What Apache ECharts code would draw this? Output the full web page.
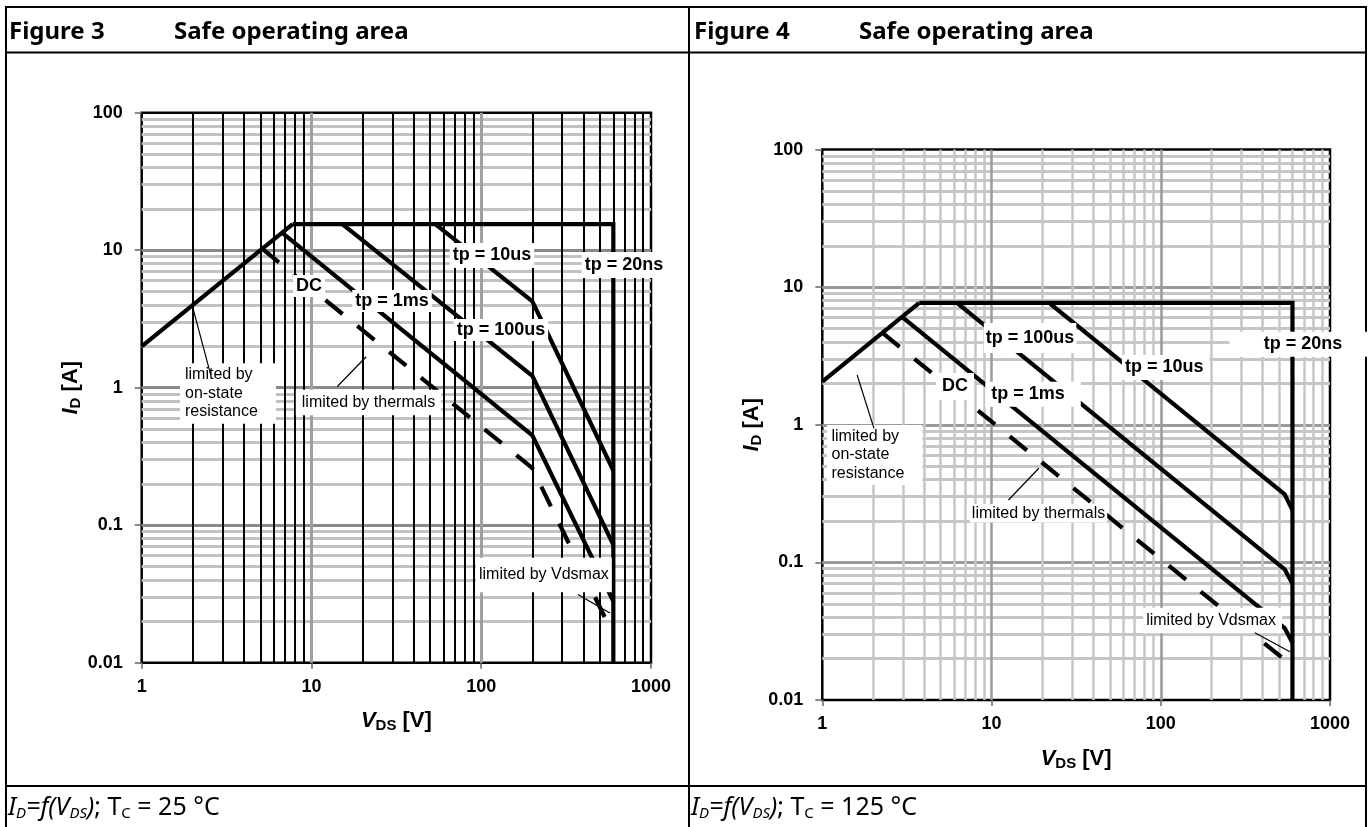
<!DOCTYPE html>
<html><head><meta charset="utf-8">
<script src="https://cdn.jsdelivr.net/npm/echarts@6/dist/echarts.min.js"></script>
<style>html,body{margin:0;padding:0;background:#fff}#c{width:1370px;height:827px}</style>
</head><body><div id="c"></div>
<script>
// ---------------- data ----------------
const xTickLabels = ['1', '10', '100', '1000'];
const yTickLabels = ['0.01', '0.1', '1', '10', '100'];
const gridDecadesX = [1, 10, 100];
const gridDecadesY = [0.01, 0.1, 1, 10];
const gridMultipliers = [2, 3, 4, 5, 6, 7, 8, 9];
const majorX = [10, 100];
const majorY = [0.1, 1, 10];

// Figure 3, Tc = 25 °C  (V_DS [V], I_D [A])
const f3RdsV = [1, 7.75];
const f3RdsI = [2, 15.5];
const f3Tp20nsV = [7.75, 600, 600];
const f3Tp20nsI = [15.5, 15.5, 0.01];
const f3Tp10usV = [53.6, 200, 600];
const f3Tp10usI = [15.5, 4.25, 0.25];
const f3Tp100usV = [15.2, 200, 600];
const f3Tp100usI = [15.5, 1.22, 0.072];
const f3Tp1msV = [6.7, 200, 600];
const f3Tp1msI = [13.4, 0.45, 0.028];
const f3DcV = [5.1, 200, 560];
const f3DcI = [10.3, 0.26, 0.019];

// Figure 4, Tc = 125 °C
const f4RdsV = [1, 3.74];
const f4RdsI = [2.06, 7.7];
const f4Tp20nsV = [3.74, 600, 600];
const f4Tp20nsI = [7.7, 7.7, 0.01];
const f4Tp10usV = [21.9, 540, 600];
const f4Tp10usI = [7.7, 0.312, 0.24];
const f4Tp100usV = [6.25, 540, 600];
const f4Tp100usI = [7.7, 0.089, 0.07];
const f4Tp1msV = [2.97, 540, 600];
const f4Tp1msI = [6.05, 0.0333, 0.026];
const f4DcV = [2.27, 575];
const f4DcI = [4.65, 0.0184];

// annotation texts and their anchor points (data units)
const f3CurveLabels = ['tp = 10us', 'tp = 20ns', 'DC', 'tp = 1ms', 'tp = 100us'];
const f3CurveLabelV = [115.6, 692.5, 9.68, 29.8, 130.6];
const f3CurveLabelI = [9.15, 7.80, 5.49, 4.27, 2.63];
const f3NoteLabels = ['limited by\non-state\nresistance', 'limited by thermals', 'limited by Vdsmax'];
const f3NoteLabelV = [1.681, 21.67, 234];
const f3NoteLabelI = [0.907, 0.781, 0.0435];
const f3LeaderV = [[1.98, 2.55], [14.2, 21.0], [371, 573]];
const f3LeaderI = [[4.0, 1.24], [1.02, 1.68], [0.0313, 0.023]];

const f4CurveLabels = ['tp = 100us', 'tp = 10us', 'tp = 20ns', 'DC', 'tp = 1ms'];
const f4CurveLabelV = [16.89, 106.9, 650.6, 6.085, 17.59];
const f4CurveLabelI = [4.27, 2.61, 3.853, 1.898, 1.669];
const f4NoteLabels = ['limited by\non-state\nresistance', 'limited by thermals', 'limited by Vdsmax'];
const f4NoteLabelV = [1.066, 18.96, 202.4];
const f4NoteLabelI = [0.603, 0.2274, 0.0379];
const f4LeaderV = [[1.606, 2.02], [12.59, 19.03], [359.8, 579.5]];
const f4LeaderI = [[2.30, 0.943], [0.284, 0.483], [0.0308, 0.02244]];

// ---------------- styles ----------------
const AX_FONT = "'Liberation Sans', Arial, sans-serif";
const TITLE_FONT = "'Noto Sans', sans-serif";

const f3CurvePad = [[3, 3, 2, 3], [3, 3, 3, 3], [1, 3, 1, 3], [1, 3, 1, 3], [1, 3, 1, 3]];
const f3NotePad = [[3, 18, 2, 5], [3, 6, 4, 6], [6, 3, 10, 3]];
const f3NoteAlign = ['left', 'center', 'center'];
const f4CurvePad = [[5, 2, 5, 2], [3, 6, 2, 3], [2, 25, 3, 34], [3, 6, 4, 6], [2, 16, 3, 6]];
const f4NotePad = [[2.5, 18, 2, 4.5], [0, 2, 0, 2], [4, 6, 3, 3]];
const f4NoteAlign = ['left', 'center', 'center'];

const pts = (v, i) => v.map((x, k) => [x, i[k]]);
const minorVals = decs => decs.flatMap(d => gridMultipliers.map(m => +(d * m).toPrecision(3)));

function gridLineSeries(g, axisKey, minors, majors, minorStyle, majorStyle, z) {
  return {
    type: 'line', xAxisIndex: g, yAxisIndex: g, data: [[1, 1]], symbol: 'none',
    lineStyle: { width: 0 }, silent: true, animation: false, z: z,
    markLine: {
      silent: true, symbol: ['none', 'none'], label: { show: false }, animation: false, z: z,
      emphasis: { disabled: true },
      data: [
        ...minors.map(v => ({ [axisKey]: v, lineStyle: Object.assign({ type: 'solid', opacity: 1 }, minorStyle) })),
        ...majors.map(v => ({ [axisKey]: v, lineStyle: Object.assign({ type: 'solid', opacity: 1 }, majorStyle) }))
      ]
    }
  };
}

function curve(g, v, i, dashed) {
  return {
    type: 'line', xAxisIndex: g, yAxisIndex: g, data: pts(v, i), symbol: 'none', silent: true,
    animation: false, z: 3, clip: false,
    lineStyle: { color: '#000', width: 4.2, opacity: 1, type: dashed ? [22, 19] : 'solid', join: 'miter', cap: 'butt' }
  };
}

function leader(g, v, i) {
  return {
    type: 'line', xAxisIndex: g, yAxisIndex: g, data: pts(v, i), symbol: 'none', silent: true,
    animation: false, z: 7, lineStyle: { color: '#000', width: 1.2, opacity: 1 }
  };
}

function labelSeries(g, texts, vs, is, pads, bold, aligns) {
  return {
    type: 'scatter', xAxisIndex: g, yAxisIndex: g, z: 6, symbolSize: 1, silent: true, animation: false,
    clip: false,
    itemStyle: { color: 'rgba(255,255,255,0)', opacity: 1 },
    data: texts.map((t, k) => ({
      value: [vs[k], is[k]],
      label: {
        show: true, position: 'inside', formatter: t, color: '#000', opacity: 1,
        fontFamily: AX_FONT, fontWeight: bold ? 'bold' : 'normal', fontSize: bold ? 18 : 16,
        lineHeight: bold ? 20 : 18.5,
        backgroundColor: '#ffffff', padding: pads[k],
        align: aligns ? aligns[k] : 'center', verticalAlign: 'middle'
      }
    }))
  };
}

const nameRich = {
  v: { fontFamily: AX_FONT, fontWeight: 'bold', fontStyle: 'italic', fontSize: 22, color: '#000' },
  s: { fontFamily: AX_FONT, fontWeight: 'bold', fontSize: 15, color: '#000', padding: [10, 0, 0, 0] },
  b: { fontFamily: AX_FONT, fontWeight: 'bold', fontSize: 22, color: '#000' }
};

function xAxisDef(g) {
  return {
    gridIndex: g, type: 'log', logBase: 10, min: 1, max: 1000,
    axisLine: { show: false },
    axisTick: { show: true, length: 6, lineStyle: { color: '#666', width: 1.5 } },
    splitLine: { show: false }, minorTick: { show: false },
    axisLabel: {
      margin: 15, color: '#000', fontFamily: AX_FONT, fontWeight: 'bold', fontSize: 18,
      showMinLabel: true, showMaxLabel: true,
      formatter: v => xTickLabels[Math.round(Math.log10(v))]
    },
    name: '{v|V}{s|DS}{b| [V]}', nameLocation: 'middle', nameGap: 46,
    nameTextStyle: { rich: nameRich }
  };
}

function yAxisDef(g) {
  return {
    gridIndex: g, type: 'log', logBase: 10, min: 0.01, max: 100,
    axisLine: { show: false },
    axisTick: { show: true, length: 7, lineStyle: { color: '#666', width: 1.5 } },
    splitLine: { show: false }, minorTick: { show: false },
    axisLabel: {
      margin: 19, color: '#000', fontFamily: AX_FONT, fontWeight: 'bold', fontSize: 18,
      showMinLabel: true, showMaxLabel: true,
      formatter: v => yTickLabels[Math.round(Math.log10(v)) + 2]
    },
    name: '{v|I}{s|D}{b| [A]}', nameLocation: 'middle', nameGap: 56, nameRotate: 90,
    nameTextStyle: { rich: nameRich }
  };
}

const xMinor = minorVals(gridDecadesX);
const yMinor = minorVals(gridDecadesY);

const series = [
  // Figure 3 grid: grey horizontals, black vertical minors
  gridLineSeries(0, 'yAxis', yMinor, majorY, { color: '#c2c2c2', width: 3 }, { color: '#8a8a8a', width: 3 }, 1),
  gridLineSeries(0, 'xAxis', xMinor, majorX, { color: '#000', width: 2 }, { color: '#a0a0a0', width: 3 }, 1.5),
  // Figure 4 grid: all grey
  gridLineSeries(1, 'yAxis', yMinor, majorY, { color: '#c6c6c6', width: 3 }, { color: '#9a9a9a', width: 3 }, 1),
  gridLineSeries(1, 'xAxis', xMinor, majorX, { color: '#c6c6c6', width: 2.5 }, { color: '#9a9a9a', width: 2.5 }, 1.5),

  curve(0, f3RdsV, f3RdsI), curve(0, f3Tp20nsV, f3Tp20nsI), curve(0, f3Tp10usV, f3Tp10usI),
  curve(0, f3Tp100usV, f3Tp100usI), curve(0, f3Tp1msV, f3Tp1msI), curve(0, f3DcV, f3DcI, true),
  curve(1, f4RdsV, f4RdsI), curve(1, f4Tp20nsV, f4Tp20nsI), curve(1, f4Tp10usV, f4Tp10usI),
  curve(1, f4Tp100usV, f4Tp100usI), curve(1, f4Tp1msV, f4Tp1msI), curve(1, f4DcV, f4DcI, true),

  ...f3LeaderV.map((v, k) => leader(0, v, f3LeaderI[k])),
  ...f4LeaderV.map((v, k) => leader(1, v, f4LeaderI[k])),

  labelSeries(0, f3CurveLabels, f3CurveLabelV, f3CurveLabelI, f3CurvePad, true),
  labelSeries(0, f3NoteLabels, f3NoteLabelV, f3NoteLabelI, f3NotePad, false, f3NoteAlign),
  labelSeries(1, f4CurveLabels, f4CurveLabelV, f4CurveLabelI, f4CurvePad, true),
  labelSeries(1, f4NoteLabels, f4NoteLabelV, f4NoteLabelI, f4NotePad, false, f4NoteAlign)
];

// ---------------- page frame (layout) ----------------
const frameLine = (x1, y1, x2, y2) => ({
  type: 'line', silent: true, z: 0,
  shape: { x1, y1, x2, y2 }, style: { stroke: '#000', lineWidth: 2 }
});
const titleText = (x, txt) => ({
  type: 'text', silent: true, z: 1,
  style: { x, y: 32, text: txt, fill: '#000', font: 'bold 24px ' + TITLE_FONT, verticalAlign: 'middle' }
});
const footRich = {
  i: { fontFamily: TITLE_FONT, fontSize: 25, fontStyle: 'italic', color: '#000' },
  is: { fontFamily: TITLE_FONT, fontSize: 15, fontStyle: 'italic', color: '#000', padding: [12, 0, 0, 0] },
  n: { fontFamily: TITLE_FONT, fontSize: 25, color: '#000' },
  ns: { fontFamily: TITLE_FONT, fontSize: 15, color: '#000', padding: [12, 0, 0, 0] }
};
const footText = (x, temp) => ({
  type: 'text', silent: true, z: 1,
  style: {
    x, y: 808, verticalAlign: 'middle', fill: '#000',
    text: '{i|I}{is|D}{i|=f(V}{is|DS}{i|)}{n|; T}{ns|C}{n| = ' + temp + ' °C}',
    rich: footRich
  }
});

const option = {
  backgroundColor: '#fff',
  animation: false,
  grid: [
    { left: 141.7, top: 112.7, width: 509.3, height: 550, show: true, borderColor: '#000', borderWidth: 2.5, backgroundColor: '#fff', z: 0 },
    { left: 822.3, top: 149.6, width: 507.7, height: 550.4, show: true, borderColor: '#000', borderWidth: 2.5, backgroundColor: '#fff', z: 0 }
  ],
  xAxis: [xAxisDef(0), xAxisDef(1)],
  yAxis: [yAxisDef(0), yAxisDef(1)],
  series: series,
  graphic: [
    frameLine(5, 7, 1367, 7),
    frameLine(5, 52.5, 1367, 52.5),
    frameLine(5, 786, 1367, 786),
    frameLine(6, 6, 6, 827),
    frameLine(689, 6, 689, 827),
    frameLine(1366, 6, 1366, 827),
    titleText(9, 'Figure 3'), titleText(174, 'Safe operating area'),
    titleText(694, 'Figure 4'), titleText(859, 'Safe operating area'),
    footText(8, '25'), footText(691, '125')
  ]
};

const chart = echarts.init(document.getElementById('c'), null, { renderer: 'canvas' });
chart.setOption(option);
</script>
</body></html>
